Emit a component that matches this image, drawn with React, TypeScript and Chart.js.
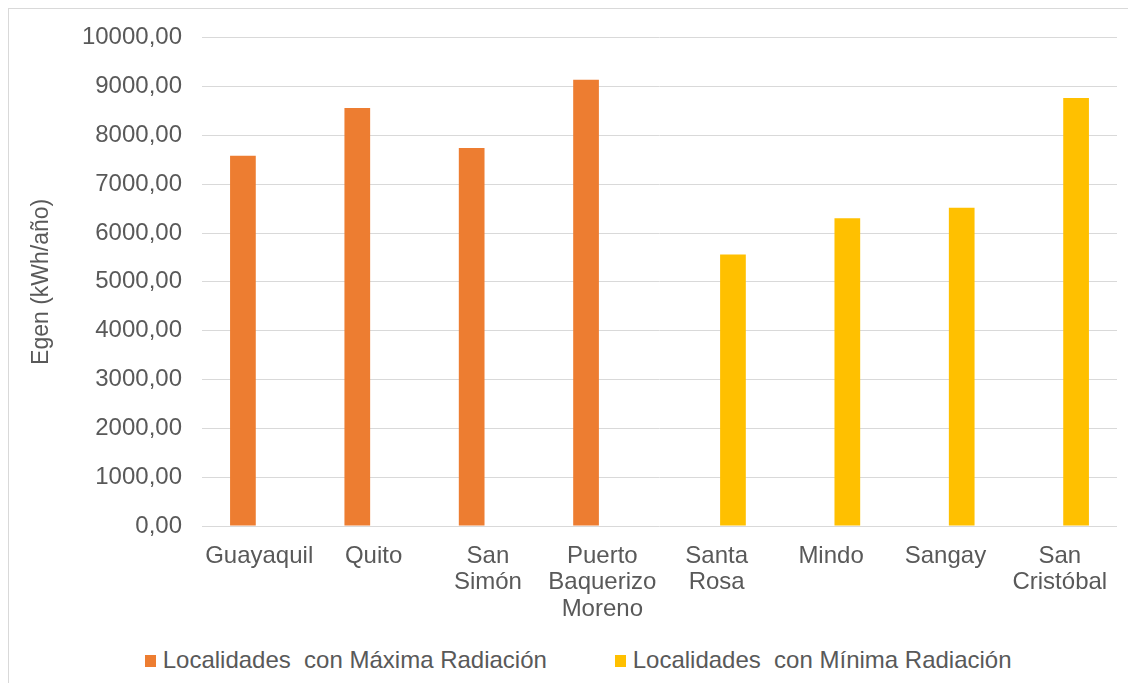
import React, { useEffect, useRef } from "react";
import { Chart, registerables } from "chart.js";

Chart.register(...registerables);

const categories: (string | string[])[] = [
  "Guayaquil",
  "Quito",
  ["San", "Simón"],
  ["Puerto", "Baquerizo", "Moreno"],
  ["Santa", "Rosa"],
  "Mindo",
  "Sangay",
  ["San", "Cristóbal"],
];
const maxRadiacion: (number | null)[] = [7580, 8560, 7740, 9140, null, null, null, null];
const minRadiacion: (number | null)[] = [null, null, null, null, 5560, 6305, 6515, 8765];
const seriesLabels = ["Localidades  con Máxima Radiación", "Localidades  con Mínima Radiación"];
const seriesColors = ["#ED7D31", "#FFC000"];
const yMin = 0;
const yMax = 10000;
const yStep = 1000;
const yAxisTitle = "Egen (kWh/año)";

const FONT = "'Liberation Sans', Arial, Helvetica, sans-serif";
const TEXT = "#595959";
const GRID = "#d9d9d9";

export default function App() {
  const ref = useRef<HTMLCanvasElement | null>(null);

  useEffect(() => {
    if (!ref.current) return;
    const chart = new Chart(ref.current, {
      type: "bar",
      data: {
        labels: categories,
        datasets: [
          {
            label: seriesLabels[0],
            data: maxRadiacion,
            backgroundColor: seriesColors[0],
            categoryPercentage: 0.569,
            barPercentage: 0.79,
          },
          {
            label: seriesLabels[1],
            data: minRadiacion,
            backgroundColor: seriesColors[1],
            categoryPercentage: 0.569,
            barPercentage: 0.79,
          },
        ],
      },
      options: {
        responsive: false,
        animation: false,
        layout: { padding: { top: 28.7, right: 11, bottom: 0, left: 0 } },
        plugins: {
          legend: { display: false },
          tooltip: { enabled: false },
        },
        scales: {
          x: {
            grid: { display: false },
            border: { display: false },
            ticks: {
              color: TEXT,
              font: { family: FONT, size: 24, lineHeight: 1.1 },
              padding: 9,
              maxRotation: 0,
              autoSkip: false,
            },
            afterFit: (scale: any) => {
              scale.height = 110;
            },
          },
          y: {
            min: yMin,
            max: yMax,
            grid: { color: GRID, lineWidth: 1, drawTicks: false },
            border: { display: false },
            ticks: {
              stepSize: yStep,
              color: TEXT,
              font: { family: FONT, size: 24 },
              padding: 20,
              callback: (v: any) => Number(v).toFixed(2).replace(".", ","),
            },
            title: {
              display: true,
              text: yAxisTitle,
              color: TEXT,
              font: { family: FONT, size: 23 },
              padding: { top: 19, bottom: 0 },
            },
            afterFit: (scale: any) => {
              scale.width = 193;
              scale.paddingTop = 0;
              scale.paddingBottom = 0;
            },
          },
        },
      },
    });
    return () => chart.destroy();
  }, []);

  const legendItems = [
    { box: 136, text: 153.7 },
    { box: 606, text: 623.7 },
  ];

  return (
    <div
      style={{
        position: "relative",
        width: 1119,
        height: 674,
        borderLeft: "1px solid " + GRID,
        borderTop: "1px solid " + GRID,
        overflow: "hidden",
      }}
    >
      <canvas ref={ref} width={1119} height={627} style={{ position: "absolute", left: 0, top: 0 }} />
      {seriesLabels.map((lab, i) => (
        <React.Fragment key={i}>
          <div
            style={{
              position: "absolute",
              left: legendItems[i].box,
              top: 646,
              width: 11,
              height: 12,
              background: seriesColors[i],
            }}
          />
          <div
            style={{
              position: "absolute",
              left: legendItems[i].text,
              top: 638.7,
              fontFamily: FONT,
              fontSize: 24,
              lineHeight: "24px",
              color: TEXT,
              whiteSpace: "pre",
            }}
          >
            {lab}
          </div>
        </React.Fragment>
      ))}
    </div>
  );
}
